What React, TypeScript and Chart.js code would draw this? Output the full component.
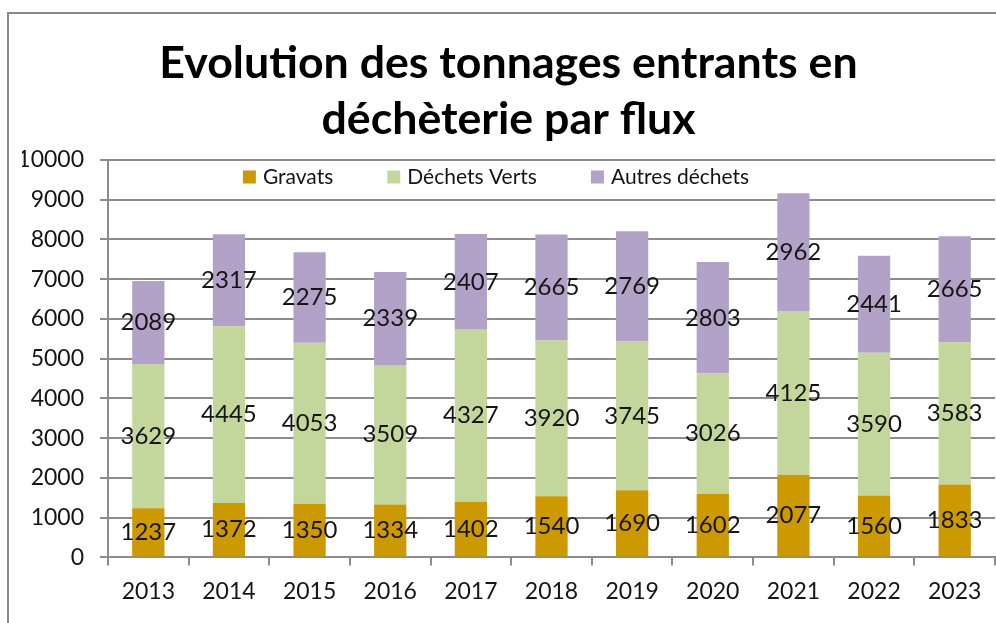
import React, { useEffect, useRef } from "react";
import { Chart, registerables } from "chart.js";

Chart.register(...registerables);

const years = ["2013", "2014", "2015", "2016", "2017", "2018", "2019", "2020", "2021", "2022", "2023"];
const gravats = [1237, 1372, 1350, 1334, 1402, 1540, 1690, 1602, 2077, 1560, 1833];
const dechetsVerts = [3629, 4445, 4053, 3509, 4327, 3920, 3745, 3026, 4125, 3590, 3583];
const autresDechets = [2089, 2317, 2275, 2339, 2407, 2665, 2769, 2803, 2962, 2441, 2665];
const seriesNames = ["Gravats", "Déchets Verts", "Autres déchets"];
const seriesColors = ["#CC9900", "#C3D69B", "#B3A2C7"];
const titleLines = ["Evolution des tonnages entrants en", "déchèterie par flux"];
const yMin = 0;
const yMax = 10000;
const yStep = 1000;

const FONT = "Lato, 'Open Sans', sans-serif";
const GRID = "#8C8C8C";
const TEXT = "#151515";

const dataLabelPlugin = {
  id: "segmentLabels",
  afterDatasetsDraw(chart: any) {
    const ctx = chart.ctx;
    ctx.save();
    ctx.font = `24px ${FONT}`;
    ctx.fillStyle = TEXT;
    ctx.textAlign = "center";
    ctx.textBaseline = "middle";
    chart.data.datasets.forEach((ds: any, i: number) => {
      const meta = chart.getDatasetMeta(i);
      meta.data.forEach((bar: any, j: number) => {
        const p = bar.getProps(["x", "y", "base"], true);
        ctx.fillText(String(ds.data[j]), p.x, (p.y + p.base) / 2);
      });
    });
    ctx.restore();
  },
};

// Legend drawn inside the plot area (top band), like the original
const insideLegendPlugin = {
  id: "insideLegend",
  afterDraw(chart: any) {
    const ctx = chart.ctx;
    const box = 13;
    const gapText = 7;
    const gapItem = 54;
    ctx.save();
    ctx.font = `21px ${FONT}`;
    ctx.textBaseline = "middle";
    ctx.textAlign = "left";
    const items = chart.data.datasets.map((ds: any) => ({
      text: ds.label,
      color: ds.backgroundColor,
      w: box + gapText + ctx.measureText(ds.label).width,
    }));
    const total = items.reduce((s: number, it: any) => s + it.w, 0) + gapItem * (items.length - 1);
    let x = chart.width / 2 - 2 - total / 2;
    const cy = chart.chartArea.top + 17;
    items.forEach((it: any) => {
      ctx.fillStyle = it.color;
      ctx.fillRect(x, cy - box / 2, box, box);
      ctx.fillStyle = TEXT;
      ctx.fillText(it.text, x + box + gapText, cy);
      x += it.w + gapItem;
    });
    ctx.restore();
  },
};

export default function App() {
  const ref = useRef<HTMLCanvasElement | null>(null);

  useEffect(() => {
    if (!ref.current) return;
    const chart = new Chart(ref.current, {
      type: "bar",
      data: {
        labels: years,
        datasets: [gravats, dechetsVerts, autresDechets].map((d, i) => ({
          label: seriesNames[i],
          data: d,
          backgroundColor: seriesColors[i],
          borderWidth: 0,
          barPercentage: 0.4,
          categoryPercentage: 1,
        })),
      },
      options: {
        responsive: false,
        animation: false,
        layout: { padding: { left: 22, right: 1, top: 0, bottom: 6 } },
        plugins: {
          title: {
            display: true,
            text: titleLines,
            color: "#000",
            font: { family: FONT, size: 44.7, weight: "bold", lineHeight: 56 / 44.7 },
            padding: { top: 36, bottom: 12 },
          },
          legend: { display: false },
          tooltip: { enabled: false },
        },
        scales: {
          x: {
            stacked: true,
            grid: {
              offset: true,
              drawOnChartArea: false,
              color: GRID,
              lineWidth: 2,
              tickLength: 8,
            },
            border: { display: true, color: GRID, width: 2 },
            ticks: {
              color: TEXT,
              font: { family: FONT, size: 23 },
              padding: 12,
              maxRotation: 0,
            },
          },
          y: {
            stacked: true,
            min: yMin,
            max: yMax,
            grid: { color: GRID, lineWidth: 2, tickLength: 8 },
            border: { display: true, color: GRID, width: 2 },
            ticks: {
              stepSize: yStep,
              color: TEXT,
              font: { family: FONT, size: 23 },
              padding: 16,
              callback: (v: any) => String(v),
            },
            afterFit(scale: any) {
              scale.width = 86;
            },
          },
        },
      },
      plugins: [dataLabelPlugin, insideLegendPlugin],
    } as any);
    return () => chart.destroy();
  }, []);

  return (
    <div style={{ position: "fixed", left: 0, top: 0, width: 996, height: 623, background: "#fff", overflow: "hidden" }}>
      <div
        style={{
          position: "absolute",
          left: 7,
          top: 12,
          width: 1200,
          height: 900,
          border: "2px solid #888",
          boxSizing: "border-box",
        }}
      />
      <canvas ref={ref} width={996} height={623} style={{ position: "absolute", left: 0, top: 0 }} />
    </div>
  );
}
